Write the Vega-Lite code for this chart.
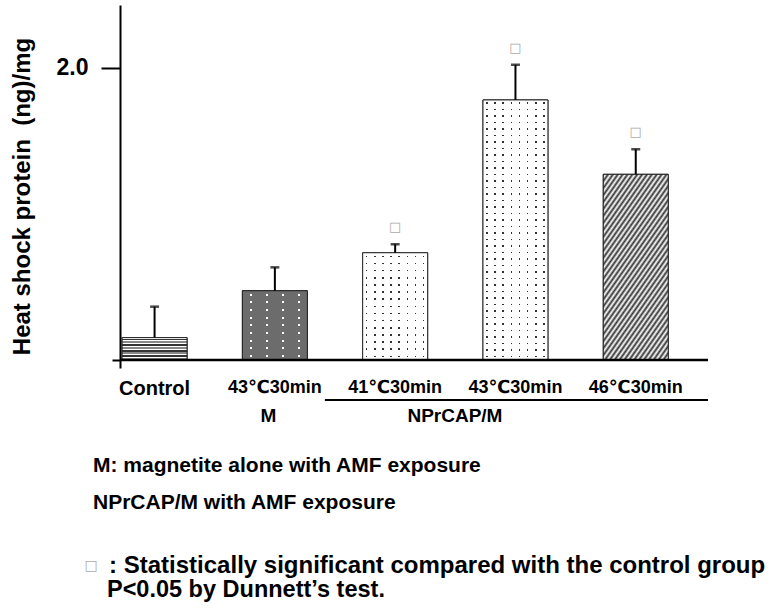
{
  "$schema": "https://vega.github.io/schema/vega-lite/v6.json",
  "width": 588,
  "height": 363,
  "autosize": {"type": "none"},
  "padding": {"left": 120, "top": 5, "right": 72, "bottom": 245},
  "background": "white",
  "config": {"view": {"stroke": null}, "font": "Liberation Sans"},
  "data": {
    "values": [
      {"group": "Control", "mean": 0.153, "upper": 0.365, "sig": ""},
      {"group": "M:43℃30min", "mean": 0.474, "upper": 0.634, "sig": ""},
      {"group": "N:41℃30min", "mean": 0.734, "upper": 0.792, "sig": "□"},
      {"group": "N:43℃30min", "mean": 1.78, "upper": 2.021, "sig": "□"},
      {"group": "N:46℃30min", "mean": 1.271, "upper": 1.442, "sig": "□"}
    ]
  },
  "layer": [
    {
      "mark": {"type": "bar", "stroke": "#222", "strokeWidth": 1},
      "encoding": {
        "x": {
          "field": "group", "type": "nominal",
          "scale": {"domain": ["Control", "M:43℃30min", "N:41℃30min", "N:43℃30min", "N:46℃30min"], "paddingInner": 0.46, "paddingOuter": 0.174, "align": 0.05},
          "axis": {
            "title": null, "domain": false, "ticks": false,
            "labelExpr": "replace(replace(datum.label, 'M:', ''), 'N:', '')",
            "labelFont": "Liberation Sans, DejaVu Sans",
            "labelFontSize": {"condition": {"test": "datum.value == 'Control'", "value": 20}, "value": 18},
            "labelFontWeight": "bold", "labelColor": "black", "labelPadding": 10, "labelAngle": 0
          }
        },
        "y": {
          "field": "mean", "type": "quantitative",
          "scale": {"domain": [-0.055, 2.43], "nice": false, "zero": false},
          "axis": {
            "values": [0, 2],
            "labelExpr": "datum.value == 2 ? '2.0' : ''",
            "tickSize": {"condition": {"test": "datum.value == 0", "value": 8}, "value": 19},
            "tickWidth": 2, "tickColor": "black",
            "domainWidth": 2, "domainColor": "black",
            "labelFont": "Liberation Sans", "labelFontSize": 23, "labelFontWeight": "bold", "labelColor": "black", "labelPadding": 13,
            "grid": false,
            "title": "Heat shock protein\u00a0\u00a0(ng)/mg",
            "titleFont": "Liberation Sans", "titleFontSize": 24, "titleFontWeight": "bold", "titleColor": "black",
            "titleX": -91, "titleY": 191, "titleAngle": -90, "titleAlign": "center", "titleBaseline": "alphabetic"
          }
        },
        "color": {
          "field": "group", "type": "nominal", "legend": null,
          "scale": {"domain": ["Control", "M:43℃30min", "N:41℃30min", "N:43℃30min", "N:46℃30min"], "range": ["#ffffff", "#ffffff", "#333333", "#333333", "#ffffff"]}
        }
      }
    },
    {
      "transform": [{"filter": "datum.group == 'Control'"}],
      "mark": {
        "type": "bar", "stroke": "#222", "strokeWidth": 1,
        "fill": {
          "gradient": "linear", "x1": 0, "y1": 0, "x2": 0, "y2": 1,
          "stops": [
            {"offset": 0, "color": "#fff"}, {"offset": 0.04, "color": "#fff"}, {"offset": 0.04, "color": "#333"}, {"offset": 0.125, "color": "#333"},
            {"offset": 0.125, "color": "#fff"}, {"offset": 0.165, "color": "#fff"}, {"offset": 0.165, "color": "#888"}, {"offset": 0.25, "color": "#888"},
            {"offset": 0.25, "color": "#fff"}, {"offset": 0.29, "color": "#fff"}, {"offset": 0.29, "color": "#333"}, {"offset": 0.375, "color": "#333"},
            {"offset": 0.375, "color": "#fff"}, {"offset": 0.415, "color": "#fff"}, {"offset": 0.415, "color": "#888"}, {"offset": 0.5, "color": "#888"},
            {"offset": 0.5, "color": "#fff"}, {"offset": 0.54, "color": "#fff"}, {"offset": 0.54, "color": "#333"}, {"offset": 0.625, "color": "#333"},
            {"offset": 0.625, "color": "#fff"}, {"offset": 0.665, "color": "#fff"}, {"offset": 0.665, "color": "#888"}, {"offset": 0.75, "color": "#888"},
            {"offset": 0.75, "color": "#fff"}, {"offset": 0.79, "color": "#fff"}, {"offset": 0.79, "color": "#333"}, {"offset": 0.875, "color": "#333"},
            {"offset": 0.875, "color": "#fff"}, {"offset": 0.915, "color": "#fff"}, {"offset": 0.915, "color": "#888"}, {"offset": 1, "color": "#888"}
          ]
        }
      },
      "encoding": {
        "x": {"field": "group", "type": "nominal"},
        "y": {"field": "mean", "type": "quantitative"}
      }
    },
    {
      "transform": [{"filter": "datum.group == 'M:43℃30min'"}],
      "mark": {
        "type": "bar", "strokeWidth": 0,
        "fill": {
          "gradient": "linear", "x1": 0, "y1": 0, "x2": 0, "y2": 1,
          "stops": [
            {"offset": 0, "color": "#6c6c6c"},
            {"offset": 0.041, "color": "#6c6c6c"}, {"offset": 0.041, "color": "rgba(108,108,108,0)"}, {"offset": 0.07, "color": "rgba(108,108,108,0)"}, {"offset": 0.07, "color": "#6c6c6c"},
            {"offset": 0.152, "color": "#6c6c6c"}, {"offset": 0.152, "color": "rgba(108,108,108,0)"}, {"offset": 0.181, "color": "rgba(108,108,108,0)"}, {"offset": 0.181, "color": "#6c6c6c"},
            {"offset": 0.263, "color": "#6c6c6c"}, {"offset": 0.263, "color": "rgba(108,108,108,0)"}, {"offset": 0.292, "color": "rgba(108,108,108,0)"}, {"offset": 0.292, "color": "#6c6c6c"},
            {"offset": 0.374, "color": "#6c6c6c"}, {"offset": 0.374, "color": "rgba(108,108,108,0)"}, {"offset": 0.403, "color": "rgba(108,108,108,0)"}, {"offset": 0.403, "color": "#6c6c6c"},
            {"offset": 0.485, "color": "#6c6c6c"}, {"offset": 0.485, "color": "rgba(108,108,108,0)"}, {"offset": 0.514, "color": "rgba(108,108,108,0)"}, {"offset": 0.514, "color": "#6c6c6c"},
            {"offset": 0.596, "color": "#6c6c6c"}, {"offset": 0.596, "color": "rgba(108,108,108,0)"}, {"offset": 0.625, "color": "rgba(108,108,108,0)"}, {"offset": 0.625, "color": "#6c6c6c"},
            {"offset": 0.707, "color": "#6c6c6c"}, {"offset": 0.707, "color": "rgba(108,108,108,0)"}, {"offset": 0.736, "color": "rgba(108,108,108,0)"}, {"offset": 0.736, "color": "#6c6c6c"},
            {"offset": 0.818, "color": "#6c6c6c"}, {"offset": 0.818, "color": "rgba(108,108,108,0)"}, {"offset": 0.847, "color": "rgba(108,108,108,0)"}, {"offset": 0.847, "color": "#6c6c6c"},
            {"offset": 0.929, "color": "#6c6c6c"}, {"offset": 0.929, "color": "rgba(108,108,108,0)"}, {"offset": 0.958, "color": "rgba(108,108,108,0)"}, {"offset": 0.958, "color": "#6c6c6c"},
            {"offset": 1, "color": "#6c6c6c"}
          ]
        }
      },
      "encoding": {
        "x": {"field": "group", "type": "nominal"},
        "y": {"field": "mean", "type": "quantitative"}
      }
    },
    {
      "transform": [{"filter": "datum.group == 'M:43℃30min'"}],
      "mark": {
        "type": "bar", "stroke": "#222", "strokeWidth": 1,
        "fill": {
          "gradient": "linear", "x1": 0, "y1": 0, "x2": 1, "y2": 0,
          "stops": [
            {"offset": 0, "color": "#6c6c6c"},
            {"offset": 0.11, "color": "#6c6c6c"}, {"offset": 0.11, "color": "rgba(108,108,108,0)"}, {"offset": 0.141, "color": "rgba(108,108,108,0)"}, {"offset": 0.141, "color": "#6c6c6c"},
            {"offset": 0.36, "color": "#6c6c6c"}, {"offset": 0.36, "color": "rgba(108,108,108,0)"}, {"offset": 0.391, "color": "rgba(108,108,108,0)"}, {"offset": 0.391, "color": "#6c6c6c"},
            {"offset": 0.61, "color": "#6c6c6c"}, {"offset": 0.61, "color": "rgba(108,108,108,0)"}, {"offset": 0.641, "color": "rgba(108,108,108,0)"}, {"offset": 0.641, "color": "#6c6c6c"},
            {"offset": 0.86, "color": "#6c6c6c"}, {"offset": 0.86, "color": "rgba(108,108,108,0)"}, {"offset": 0.891, "color": "rgba(108,108,108,0)"}, {"offset": 0.891, "color": "#6c6c6c"},
            {"offset": 1, "color": "#6c6c6c"}
          ]
        }
      },
      "encoding": {
        "x": {"field": "group", "type": "nominal"},
        "y": {"field": "mean", "type": "quantitative"}
      }
    },
    {
      "transform": [{"filter": "datum.group == 'N:41℃30min'"}],
      "mark": {
        "type": "bar", "strokeWidth": 0,
        "fill": {
          "gradient": "linear", "x1": 0, "y1": 0, "x2": 0, "y2": 1,
          "stops": [
            {"offset": 0, "color": "#ffffff"},
            {"offset": 0.026, "color": "#ffffff"}, {"offset": 0.026, "color": "rgba(255,255,255,0)"}, {"offset": 0.041, "color": "rgba(255,255,255,0)"}, {"offset": 0.041, "color": "#ffffff"},
            {"offset": 0.0927, "color": "#ffffff"}, {"offset": 0.0927, "color": "rgba(255,255,255,0)"}, {"offset": 0.1077, "color": "rgba(255,255,255,0)"}, {"offset": 0.1077, "color": "#ffffff"},
            {"offset": 0.1593, "color": "#ffffff"}, {"offset": 0.1593, "color": "rgba(255,255,255,0)"}, {"offset": 0.1743, "color": "rgba(255,255,255,0)"}, {"offset": 0.1743, "color": "#ffffff"},
            {"offset": 0.226, "color": "#ffffff"}, {"offset": 0.226, "color": "rgba(255,255,255,0)"}, {"offset": 0.241, "color": "rgba(255,255,255,0)"}, {"offset": 0.241, "color": "#ffffff"},
            {"offset": 0.2927, "color": "#ffffff"}, {"offset": 0.2927, "color": "rgba(255,255,255,0)"}, {"offset": 0.3077, "color": "rgba(255,255,255,0)"}, {"offset": 0.3077, "color": "#ffffff"},
            {"offset": 0.3593, "color": "#ffffff"}, {"offset": 0.3593, "color": "rgba(255,255,255,0)"}, {"offset": 0.3743, "color": "rgba(255,255,255,0)"}, {"offset": 0.3743, "color": "#ffffff"},
            {"offset": 0.426, "color": "#ffffff"}, {"offset": 0.426, "color": "rgba(255,255,255,0)"}, {"offset": 0.441, "color": "rgba(255,255,255,0)"}, {"offset": 0.441, "color": "#ffffff"},
            {"offset": 0.4927, "color": "#ffffff"}, {"offset": 0.4927, "color": "rgba(255,255,255,0)"}, {"offset": 0.5077, "color": "rgba(255,255,255,0)"}, {"offset": 0.5077, "color": "#ffffff"},
            {"offset": 0.5593, "color": "#ffffff"}, {"offset": 0.5593, "color": "rgba(255,255,255,0)"}, {"offset": 0.5743, "color": "rgba(255,255,255,0)"}, {"offset": 0.5743, "color": "#ffffff"},
            {"offset": 0.626, "color": "#ffffff"}, {"offset": 0.626, "color": "rgba(255,255,255,0)"}, {"offset": 0.641, "color": "rgba(255,255,255,0)"}, {"offset": 0.641, "color": "#ffffff"},
            {"offset": 0.6927, "color": "#ffffff"}, {"offset": 0.6927, "color": "rgba(255,255,255,0)"}, {"offset": 0.7077, "color": "rgba(255,255,255,0)"}, {"offset": 0.7077, "color": "#ffffff"},
            {"offset": 0.7593, "color": "#ffffff"}, {"offset": 0.7593, "color": "rgba(255,255,255,0)"}, {"offset": 0.7743, "color": "rgba(255,255,255,0)"}, {"offset": 0.7743, "color": "#ffffff"},
            {"offset": 0.826, "color": "#ffffff"}, {"offset": 0.826, "color": "rgba(255,255,255,0)"}, {"offset": 0.841, "color": "rgba(255,255,255,0)"}, {"offset": 0.841, "color": "#ffffff"},
            {"offset": 0.8927, "color": "#ffffff"}, {"offset": 0.8927, "color": "rgba(255,255,255,0)"}, {"offset": 0.9077, "color": "rgba(255,255,255,0)"}, {"offset": 0.9077, "color": "#ffffff"},
            {"offset": 0.9593, "color": "#ffffff"}, {"offset": 0.9593, "color": "rgba(255,255,255,0)"}, {"offset": 0.9743, "color": "rgba(255,255,255,0)"}, {"offset": 0.9743, "color": "#ffffff"},
            {"offset": 1, "color": "#ffffff"}
          ]
        }
      },
      "encoding": {
        "x": {"field": "group", "type": "nominal"},
        "y": {"field": "mean", "type": "quantitative"}
      }
    },
    {
      "transform": [{"filter": "datum.group == 'N:41℃30min'"}],
      "mark": {
        "type": "bar", "stroke": "#222", "strokeWidth": 1,
        "fill": {
          "gradient": "linear", "x1": 0, "y1": 0, "x2": 1, "y2": 0,
          "stops": [
            {"offset": 0, "color": "#ffffff"},
            {"offset": 0.051, "color": "#ffffff"}, {"offset": 0.051, "color": "rgba(255,255,255,0)"}, {"offset": 0.074, "color": "rgba(255,255,255,0)"}, {"offset": 0.074, "color": "#ffffff"},
            {"offset": 0.176, "color": "#ffffff"}, {"offset": 0.176, "color": "rgba(255,255,255,0)"}, {"offset": 0.199, "color": "rgba(255,255,255,0)"}, {"offset": 0.199, "color": "#ffffff"},
            {"offset": 0.301, "color": "#ffffff"}, {"offset": 0.301, "color": "rgba(255,255,255,0)"}, {"offset": 0.324, "color": "rgba(255,255,255,0)"}, {"offset": 0.324, "color": "#ffffff"},
            {"offset": 0.426, "color": "#ffffff"}, {"offset": 0.426, "color": "rgba(255,255,255,0)"}, {"offset": 0.449, "color": "rgba(255,255,255,0)"}, {"offset": 0.449, "color": "#ffffff"},
            {"offset": 0.551, "color": "#ffffff"}, {"offset": 0.551, "color": "rgba(255,255,255,0)"}, {"offset": 0.574, "color": "rgba(255,255,255,0)"}, {"offset": 0.574, "color": "#ffffff"},
            {"offset": 0.676, "color": "#ffffff"}, {"offset": 0.676, "color": "rgba(255,255,255,0)"}, {"offset": 0.699, "color": "rgba(255,255,255,0)"}, {"offset": 0.699, "color": "#ffffff"},
            {"offset": 0.801, "color": "#ffffff"}, {"offset": 0.801, "color": "rgba(255,255,255,0)"}, {"offset": 0.824, "color": "rgba(255,255,255,0)"}, {"offset": 0.824, "color": "#ffffff"},
            {"offset": 0.926, "color": "#ffffff"}, {"offset": 0.926, "color": "rgba(255,255,255,0)"}, {"offset": 0.949, "color": "rgba(255,255,255,0)"}, {"offset": 0.949, "color": "#ffffff"},
            {"offset": 1, "color": "#ffffff"}
          ]
        }
      },
      "encoding": {
        "x": {"field": "group", "type": "nominal"},
        "y": {"field": "mean", "type": "quantitative"}
      }
    },
    {
      "transform": [{"filter": "datum.group == 'N:43℃30min'"}],
      "mark": {
        "type": "bar", "strokeWidth": 0,
        "fill": {
          "gradient": "linear", "x1": 0, "y1": 0, "x2": 0, "y2": 1,
          "stops": [
            {"offset": 0, "color": "#ffffff"},
            {"offset": 0.009, "color": "#ffffff"}, {"offset": 0.009, "color": "rgba(255,255,255,0)"}, {"offset": 0.0155, "color": "rgba(255,255,255,0)"}, {"offset": 0.0155, "color": "#ffffff"},
            {"offset": 0.034, "color": "#ffffff"}, {"offset": 0.034, "color": "rgba(255,255,255,0)"}, {"offset": 0.0405, "color": "rgba(255,255,255,0)"}, {"offset": 0.0405, "color": "#ffffff"},
            {"offset": 0.059, "color": "#ffffff"}, {"offset": 0.059, "color": "rgba(255,255,255,0)"}, {"offset": 0.0655, "color": "rgba(255,255,255,0)"}, {"offset": 0.0655, "color": "#ffffff"},
            {"offset": 0.084, "color": "#ffffff"}, {"offset": 0.084, "color": "rgba(255,255,255,0)"}, {"offset": 0.0905, "color": "rgba(255,255,255,0)"}, {"offset": 0.0905, "color": "#ffffff"},
            {"offset": 0.109, "color": "#ffffff"}, {"offset": 0.109, "color": "rgba(255,255,255,0)"}, {"offset": 0.1155, "color": "rgba(255,255,255,0)"}, {"offset": 0.1155, "color": "#ffffff"},
            {"offset": 0.134, "color": "#ffffff"}, {"offset": 0.134, "color": "rgba(255,255,255,0)"}, {"offset": 0.1405, "color": "rgba(255,255,255,0)"}, {"offset": 0.1405, "color": "#ffffff"},
            {"offset": 0.159, "color": "#ffffff"}, {"offset": 0.159, "color": "rgba(255,255,255,0)"}, {"offset": 0.1655, "color": "rgba(255,255,255,0)"}, {"offset": 0.1655, "color": "#ffffff"},
            {"offset": 0.184, "color": "#ffffff"}, {"offset": 0.184, "color": "rgba(255,255,255,0)"}, {"offset": 0.1905, "color": "rgba(255,255,255,0)"}, {"offset": 0.1905, "color": "#ffffff"},
            {"offset": 0.209, "color": "#ffffff"}, {"offset": 0.209, "color": "rgba(255,255,255,0)"}, {"offset": 0.2155, "color": "rgba(255,255,255,0)"}, {"offset": 0.2155, "color": "#ffffff"},
            {"offset": 0.234, "color": "#ffffff"}, {"offset": 0.234, "color": "rgba(255,255,255,0)"}, {"offset": 0.2405, "color": "rgba(255,255,255,0)"}, {"offset": 0.2405, "color": "#ffffff"},
            {"offset": 0.259, "color": "#ffffff"}, {"offset": 0.259, "color": "rgba(255,255,255,0)"}, {"offset": 0.2655, "color": "rgba(255,255,255,0)"}, {"offset": 0.2655, "color": "#ffffff"},
            {"offset": 0.284, "color": "#ffffff"}, {"offset": 0.284, "color": "rgba(255,255,255,0)"}, {"offset": 0.2905, "color": "rgba(255,255,255,0)"}, {"offset": 0.2905, "color": "#ffffff"},
            {"offset": 0.309, "color": "#ffffff"}, {"offset": 0.309, "color": "rgba(255,255,255,0)"}, {"offset": 0.3155, "color": "rgba(255,255,255,0)"}, {"offset": 0.3155, "color": "#ffffff"},
            {"offset": 0.334, "color": "#ffffff"}, {"offset": 0.334, "color": "rgba(255,255,255,0)"}, {"offset": 0.3405, "color": "rgba(255,255,255,0)"}, {"offset": 0.3405, "color": "#ffffff"},
            {"offset": 0.359, "color": "#ffffff"}, {"offset": 0.359, "color": "rgba(255,255,255,0)"}, {"offset": 0.3655, "color": "rgba(255,255,255,0)"}, {"offset": 0.3655, "color": "#ffffff"},
            {"offset": 0.384, "color": "#ffffff"}, {"offset": 0.384, "color": "rgba(255,255,255,0)"}, {"offset": 0.3905, "color": "rgba(255,255,255,0)"}, {"offset": 0.3905, "color": "#ffffff"},
            {"offset": 0.409, "color": "#ffffff"}, {"offset": 0.409, "color": "rgba(255,255,255,0)"}, {"offset": 0.4155, "color": "rgba(255,255,255,0)"}, {"offset": 0.4155, "color": "#ffffff"},
            {"offset": 0.434, "color": "#ffffff"}, {"offset": 0.434, "color": "rgba(255,255,255,0)"}, {"offset": 0.4405, "color": "rgba(255,255,255,0)"}, {"offset": 0.4405, "color": "#ffffff"},
            {"offset": 0.459, "color": "#ffffff"}, {"offset": 0.459, "color": "rgba(255,255,255,0)"}, {"offset": 0.4655, "color": "rgba(255,255,255,0)"}, {"offset": 0.4655, "color": "#ffffff"},
            {"offset": 0.484, "color": "#ffffff"}, {"offset": 0.484, "color": "rgba(255,255,255,0)"}, {"offset": 0.4905, "color": "rgba(255,255,255,0)"}, {"offset": 0.4905, "color": "#ffffff"},
            {"offset": 0.509, "color": "#ffffff"}, {"offset": 0.509, "color": "rgba(255,255,255,0)"}, {"offset": 0.5155, "color": "rgba(255,255,255,0)"}, {"offset": 0.5155, "color": "#ffffff"},
            {"offset": 0.534, "color": "#ffffff"}, {"offset": 0.534, "color": "rgba(255,255,255,0)"}, {"offset": 0.5405, "color": "rgba(255,255,255,0)"}, {"offset": 0.5405, "color": "#ffffff"},
            {"offset": 0.559, "color": "#ffffff"}, {"offset": 0.559, "color": "rgba(255,255,255,0)"}, {"offset": 0.5655, "color": "rgba(255,255,255,0)"}, {"offset": 0.5655, "color": "#ffffff"},
            {"offset": 0.584, "color": "#ffffff"}, {"offset": 0.584, "color": "rgba(255,255,255,0)"}, {"offset": 0.5905, "color": "rgba(255,255,255,0)"}, {"offset": 0.5905, "color": "#ffffff"},
            {"offset": 0.609, "color": "#ffffff"}, {"offset": 0.609, "color": "rgba(255,255,255,0)"}, {"offset": 0.6155, "color": "rgba(255,255,255,0)"}, {"offset": 0.6155, "color": "#ffffff"},
            {"offset": 0.634, "color": "#ffffff"}, {"offset": 0.634, "color": "rgba(255,255,255,0)"}, {"offset": 0.6405, "color": "rgba(255,255,255,0)"}, {"offset": 0.6405, "color": "#ffffff"},
            {"offset": 0.659, "color": "#ffffff"}, {"offset": 0.659, "color": "rgba(255,255,255,0)"}, {"offset": 0.6655, "color": "rgba(255,255,255,0)"}, {"offset": 0.6655, "color": "#ffffff"},
            {"offset": 0.684, "color": "#ffffff"}, {"offset": 0.684, "color": "rgba(255,255,255,0)"}, {"offset": 0.6905, "color": "rgba(255,255,255,0)"}, {"offset": 0.6905, "color": "#ffffff"},
            {"offset": 0.709, "color": "#ffffff"}, {"offset": 0.709, "color": "rgba(255,255,255,0)"}, {"offset": 0.7155, "color": "rgba(255,255,255,0)"}, {"offset": 0.7155, "color": "#ffffff"},
            {"offset": 0.734, "color": "#ffffff"}, {"offset": 0.734, "color": "rgba(255,255,255,0)"}, {"offset": 0.7405, "color": "rgba(255,255,255,0)"}, {"offset": 0.7405, "color": "#ffffff"},
            {"offset": 0.759, "color": "#ffffff"}, {"offset": 0.759, "color": "rgba(255,255,255,0)"}, {"offset": 0.7655, "color": "rgba(255,255,255,0)"}, {"offset": 0.7655, "color": "#ffffff"},
            {"offset": 0.784, "color": "#ffffff"}, {"offset": 0.784, "color": "rgba(255,255,255,0)"}, {"offset": 0.7905, "color": "rgba(255,255,255,0)"}, {"offset": 0.7905, "color": "#ffffff"},
            {"offset": 0.809, "color": "#ffffff"}, {"offset": 0.809, "color": "rgba(255,255,255,0)"}, {"offset": 0.8155, "color": "rgba(255,255,255,0)"}, {"offset": 0.8155, "color": "#ffffff"},
            {"offset": 0.834, "color": "#ffffff"}, {"offset": 0.834, "color": "rgba(255,255,255,0)"}, {"offset": 0.8405, "color": "rgba(255,255,255,0)"}, {"offset": 0.8405, "color": "#ffffff"},
            {"offset": 0.859, "color": "#ffffff"}, {"offset": 0.859, "color": "rgba(255,255,255,0)"}, {"offset": 0.8655, "color": "rgba(255,255,255,0)"}, {"offset": 0.8655, "color": "#ffffff"},
            {"offset": 0.884, "color": "#ffffff"}, {"offset": 0.884, "color": "rgba(255,255,255,0)"}, {"offset": 0.8905, "color": "rgba(255,255,255,0)"}, {"offset": 0.8905, "color": "#ffffff"},
            {"offset": 0.909, "color": "#ffffff"}, {"offset": 0.909, "color": "rgba(255,255,255,0)"}, {"offset": 0.9155, "color": "rgba(255,255,255,0)"}, {"offset": 0.9155, "color": "#ffffff"},
            {"offset": 0.934, "color": "#ffffff"}, {"offset": 0.934, "color": "rgba(255,255,255,0)"}, {"offset": 0.9405, "color": "rgba(255,255,255,0)"}, {"offset": 0.9405, "color": "#ffffff"},
            {"offset": 0.959, "color": "#ffffff"}, {"offset": 0.959, "color": "rgba(255,255,255,0)"}, {"offset": 0.9655, "color": "rgba(255,255,255,0)"}, {"offset": 0.9655, "color": "#ffffff"},
            {"offset": 0.984, "color": "#ffffff"}, {"offset": 0.984, "color": "rgba(255,255,255,0)"}, {"offset": 0.9905, "color": "rgba(255,255,255,0)"}, {"offset": 0.9905, "color": "#ffffff"},
            {"offset": 1, "color": "#ffffff"}
          ]
        }
      },
      "encoding": {
        "x": {"field": "group", "type": "nominal"},
        "y": {"field": "mean", "type": "quantitative"}
      }
    },
    {
      "transform": [{"filter": "datum.group == 'N:43℃30min'"}],
      "mark": {
        "type": "bar", "stroke": "#222", "strokeWidth": 1,
        "fill": {
          "gradient": "linear", "x1": 0, "y1": 0, "x2": 1, "y2": 0,
          "stops": [
            {"offset": 0, "color": "#ffffff"},
            {"offset": 0.0495, "color": "#ffffff"}, {"offset": 0.0495, "color": "rgba(255,255,255,0)"}, {"offset": 0.0755, "color": "rgba(255,255,255,0)"}, {"offset": 0.0755, "color": "#ffffff"},
            {"offset": 0.1745, "color": "#ffffff"}, {"offset": 0.1745, "color": "rgba(255,255,255,0)"}, {"offset": 0.2005, "color": "rgba(255,255,255,0)"}, {"offset": 0.2005, "color": "#ffffff"},
            {"offset": 0.2995, "color": "#ffffff"}, {"offset": 0.2995, "color": "rgba(255,255,255,0)"}, {"offset": 0.3255, "color": "rgba(255,255,255,0)"}, {"offset": 0.3255, "color": "#ffffff"},
            {"offset": 0.4245, "color": "#ffffff"}, {"offset": 0.4245, "color": "rgba(255,255,255,0)"}, {"offset": 0.4505, "color": "rgba(255,255,255,0)"}, {"offset": 0.4505, "color": "#ffffff"},
            {"offset": 0.5495, "color": "#ffffff"}, {"offset": 0.5495, "color": "rgba(255,255,255,0)"}, {"offset": 0.5755, "color": "rgba(255,255,255,0)"}, {"offset": 0.5755, "color": "#ffffff"},
            {"offset": 0.6745, "color": "#ffffff"}, {"offset": 0.6745, "color": "rgba(255,255,255,0)"}, {"offset": 0.7005, "color": "rgba(255,255,255,0)"}, {"offset": 0.7005, "color": "#ffffff"},
            {"offset": 0.7995, "color": "#ffffff"}, {"offset": 0.7995, "color": "rgba(255,255,255,0)"}, {"offset": 0.8255, "color": "rgba(255,255,255,0)"}, {"offset": 0.8255, "color": "#ffffff"},
            {"offset": 0.9245, "color": "#ffffff"}, {"offset": 0.9245, "color": "rgba(255,255,255,0)"}, {"offset": 0.9505, "color": "rgba(255,255,255,0)"}, {"offset": 0.9505, "color": "#ffffff"},
            {"offset": 1, "color": "#ffffff"}
          ]
        }
      },
      "encoding": {
        "x": {"field": "group", "type": "nominal"},
        "y": {"field": "mean", "type": "quantitative"}
      }
    },
    {
      "transform": [{"filter": "datum.group == 'N:46℃30min'"}],
      "mark": {
        "type": "bar", "stroke": "#222", "strokeWidth": 1,
        "fill": {
          "gradient": "linear", "x1": 0, "y1": 0, "x2": 0.6, "y2": 1.2,
          "stops": [
            {"offset": 0, "color": "#333"}, {"offset": 0.0125, "color": "#fff"}, {"offset": 0.025, "color": "#333"}, {"offset": 0.0375, "color": "#fff"},
            {"offset": 0.05, "color": "#333"}, {"offset": 0.0625, "color": "#fff"}, {"offset": 0.075, "color": "#333"}, {"offset": 0.0875, "color": "#fff"},
            {"offset": 0.1, "color": "#333"}, {"offset": 0.1125, "color": "#fff"}, {"offset": 0.125, "color": "#333"}, {"offset": 0.1375, "color": "#fff"},
            {"offset": 0.15, "color": "#333"}, {"offset": 0.1625, "color": "#fff"}, {"offset": 0.175, "color": "#333"}, {"offset": 0.1875, "color": "#fff"},
            {"offset": 0.2, "color": "#333"}, {"offset": 0.2125, "color": "#fff"}, {"offset": 0.225, "color": "#333"}, {"offset": 0.2375, "color": "#fff"},
            {"offset": 0.25, "color": "#333"}, {"offset": 0.2625, "color": "#fff"}, {"offset": 0.275, "color": "#333"}, {"offset": 0.2875, "color": "#fff"},
            {"offset": 0.3, "color": "#333"}, {"offset": 0.3125, "color": "#fff"}, {"offset": 0.325, "color": "#333"}, {"offset": 0.3375, "color": "#fff"},
            {"offset": 0.35, "color": "#333"}, {"offset": 0.3625, "color": "#fff"}, {"offset": 0.375, "color": "#333"}, {"offset": 0.3875, "color": "#fff"},
            {"offset": 0.4, "color": "#333"}, {"offset": 0.4125, "color": "#fff"}, {"offset": 0.425, "color": "#333"}, {"offset": 0.4375, "color": "#fff"},
            {"offset": 0.45, "color": "#333"}, {"offset": 0.4625, "color": "#fff"}, {"offset": 0.475, "color": "#333"}, {"offset": 0.4875, "color": "#fff"},
            {"offset": 0.5, "color": "#333"}, {"offset": 0.5125, "color": "#fff"}, {"offset": 0.525, "color": "#333"}, {"offset": 0.5375, "color": "#fff"},
            {"offset": 0.55, "color": "#333"}, {"offset": 0.5625, "color": "#fff"}, {"offset": 0.575, "color": "#333"}, {"offset": 0.5875, "color": "#fff"},
            {"offset": 0.6, "color": "#333"}, {"offset": 0.6125, "color": "#fff"}, {"offset": 0.625, "color": "#333"}, {"offset": 0.6375, "color": "#fff"},
            {"offset": 0.65, "color": "#333"}, {"offset": 0.6625, "color": "#fff"}, {"offset": 0.675, "color": "#333"}, {"offset": 0.6875, "color": "#fff"},
            {"offset": 0.7, "color": "#333"}, {"offset": 0.7125, "color": "#fff"}, {"offset": 0.725, "color": "#333"}, {"offset": 0.7375, "color": "#fff"},
            {"offset": 0.75, "color": "#333"}, {"offset": 0.7625, "color": "#fff"}, {"offset": 0.775, "color": "#333"}, {"offset": 0.7875, "color": "#fff"},
            {"offset": 0.8, "color": "#333"}, {"offset": 0.8125, "color": "#fff"}, {"offset": 0.825, "color": "#333"}, {"offset": 0.8375, "color": "#fff"},
            {"offset": 0.85, "color": "#333"}, {"offset": 0.8625, "color": "#fff"}, {"offset": 0.875, "color": "#333"}, {"offset": 0.8875, "color": "#fff"},
            {"offset": 0.9, "color": "#333"}, {"offset": 0.9125, "color": "#fff"}, {"offset": 0.925, "color": "#333"}, {"offset": 0.9375, "color": "#fff"},
            {"offset": 0.95, "color": "#333"}, {"offset": 0.9625, "color": "#fff"}, {"offset": 0.975, "color": "#333"}, {"offset": 0.9875, "color": "#fff"},
            {"offset": 1, "color": "#333"}
          ]
        }
      },
      "encoding": {
        "x": {"field": "group", "type": "nominal"},
        "y": {"field": "mean", "type": "quantitative"}
      }
    },
    {
      "mark": {"type": "rule", "color": "black", "strokeWidth": 2},
      "encoding": {
        "x": {"field": "group", "type": "nominal"},
        "y": {"field": "mean", "type": "quantitative"},
        "y2": {"field": "upper"}
      }
    },
    {
      "mark": {"type": "tick", "orient": "horizontal", "color": "black", "size": 9, "thickness": 2.5},
      "encoding": {
        "x": {"field": "group", "type": "nominal"},
        "y": {"field": "upper", "type": "quantitative"}
      }
    },
    {
      "mark": {"type": "text", "font": "DejaVu Sans", "fontSize": 13, "color": "#aaaaaa", "baseline": "middle", "dy": -17},
      "encoding": {
        "x": {"field": "group", "type": "nominal"},
        "y": {"field": "upper", "type": "quantitative"},
        "text": {"field": "sig"}
      }
    },
    {
      "data": {"values": [{}]},
      "mark": {"type": "rule", "color": "black", "strokeWidth": 2.5},
      "encoding": {
        "y": {"datum": 0, "type": "quantitative"}
      }
    },
    {
      "data": {"values": [{}]},
      "mark": {"type": "rule", "color": "black", "strokeWidth": 2},
      "encoding": {
        "x": {"datum": "M:43℃30min", "type": "nominal", "bandPosition": 1.27},
        "x2": {"value": "width"},
        "y": {"datum": -0.274, "type": "quantitative"}
      }
    },
    {
      "data": {"values": [{"t": "M"}]},
      "mark": {"type": "text", "font": "Liberation Sans", "fontSize": 19, "fontWeight": "bold", "color": "black", "baseline": "middle", "align": "center"},
      "encoding": {
        "x": {"datum": "M:43℃30min", "type": "nominal", "bandPosition": 0.4},
        "y": {"datum": -0.383, "type": "quantitative"},
        "text": {"field": "t"}
      }
    },
    {
      "data": {"values": [{"t": "NPrCAP/M"}]},
      "mark": {"type": "text", "font": "Liberation Sans", "fontSize": 19, "fontWeight": "bold", "color": "black", "baseline": "middle", "align": "center"},
      "encoding": {
        "x": {"datum": "N:41℃30min", "type": "nominal", "bandPosition": 1.42},
        "y": {"datum": -0.383, "type": "quantitative"},
        "text": {"field": "t"}
      }
    },
    {
      "data": {"values": [{"t": "M: magnetite alone with AMF exposure"}]},
      "mark": {"type": "text", "font": "Liberation Sans", "fontSize": 21, "fontWeight": "bold", "color": "black", "baseline": "middle", "align": "left"},
      "encoding": {
        "x": {"datum": "Control", "type": "nominal", "bandPosition": -0.448},
        "y": {"datum": -0.7256, "type": "quantitative"},
        "text": {"field": "t"}
      }
    },
    {
      "data": {"values": [{"t": "NPrCAP/M with AMF exposure"}]},
      "mark": {"type": "text", "font": "Liberation Sans", "fontSize": 21, "fontWeight": "bold", "color": "black", "baseline": "middle", "align": "left"},
      "encoding": {
        "x": {"datum": "Control", "type": "nominal", "bandPosition": -0.448},
        "y": {"datum": -0.979, "type": "quantitative"},
        "text": {"field": "t"}
      }
    },
    {
      "data": {"values": [{"t": "□"}]},
      "mark": {"type": "text", "font": "DejaVu Sans", "fontSize": 14, "color": "#aaaaaa", "baseline": "middle", "align": "center"},
      "encoding": {
        "x": {"datum": "Control", "type": "nominal", "bandPosition": -0.478},
        "y": {"datum": -1.41, "type": "quantitative"},
        "text": {"field": "t"}
      }
    },
    {
      "data": {"values": [{"t": ": Statistically significant compared with the control group"}]},
      "mark": {"type": "text", "font": "Liberation Sans", "fontSize": 24, "fontWeight": "bold", "color": "black", "baseline": "middle", "align": "left"},
      "encoding": {
        "x": {"datum": "Control", "type": "nominal", "bandPosition": -0.2},
        "y": {"datum": -1.41, "type": "quantitative"},
        "text": {"field": "t"}
      }
    },
    {
      "data": {"values": [{"t": "P<0.05 by Dunnett’s test."}]},
      "mark": {"type": "text", "font": "Liberation Sans", "fontSize": 23.5, "fontWeight": "bold", "color": "black", "baseline": "middle", "align": "left"},
      "encoding": {
        "x": {"datum": "Control", "type": "nominal", "bandPosition": -0.233},
        "y": {"datum": -1.574, "type": "quantitative"},
        "text": {"field": "t"}
      }
    }
  ]
}
